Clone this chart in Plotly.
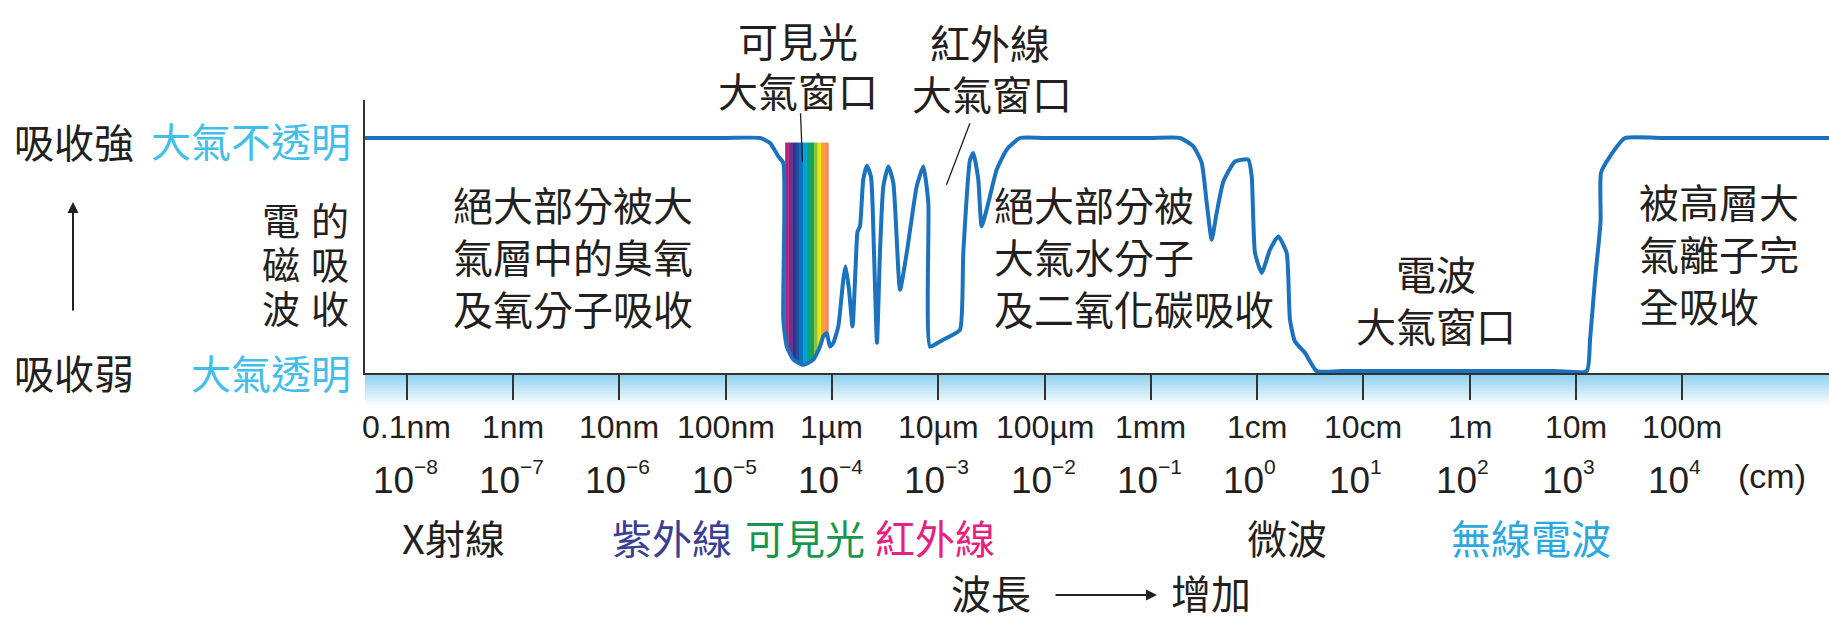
import numpy as np
import plotly.graph_objects as go

# Atmospheric absorption: log10(wavelength / cm) against relative absorption
# (0 = atmosphere transparent, 1 = atmosphere opaque)
log_wavelength = [
    -8.392, -6.000, -5.000, -4.676, -4.582, -4.504, -4.457, -4.457, -4.425, -4.363,
    -4.269, -4.175, -4.112, -4.081, -4.049, -4.018, -3.987, -3.940, -3.893, -3.872,
    -3.839, -3.806, -3.778, -3.759, -3.736, -3.705, -3.670, -3.632, -3.604, -3.576,
    -3.548, -3.516, -3.469, -3.422, -3.359, -3.296, -3.202, -3.140, -3.093, -3.077,
    -2.983, -2.889, -2.795, -2.764, -2.701, -2.670, -2.623, -2.591, -2.529, -2.450,
    -2.356, -2.230, -2.000, -1.000, -0.725, -0.600, -0.521, -0.474, -0.427, -0.380,
    -0.318, -0.208, -0.083, -0.051, -0.020, 0.043, 0.121, 0.199, 0.278, 0.309,
    0.356, 0.450, 0.561, 0.800, 2.800, 3.101, 3.132, 3.179, 3.231, 3.235,
    3.320, 3.461, 3.800, 5.381,
]
absorption = [
    1.0, 1.0, 1.0, 1.0, 0.979, 0.922, 0.894, 0.227, 0.113, 0.057,
    0.035, 0.057, 0.113, 0.156, 0.170, 0.113, 0.128, 0.198, 0.397, 0.454,
    0.354, 0.198, 0.440, 0.601, 0.624, 0.823, 0.882, 0.835, 0.512, 0.129,
    0.511, 0.794, 0.879, 0.809, 0.354, 0.511, 0.794, 0.879, 0.723, 0.113,
    0.134, 0.156, 0.184, 0.511, 0.906, 0.936, 0.823, 0.624, 0.723, 0.865,
    0.950, 1.0, 1.0, 1.0, 1.0, 0.964, 0.894, 0.723, 0.567, 0.682,
    0.814, 0.900, 0.908, 0.837, 0.512, 0.426, 0.525, 0.581, 0.511, 0.227,
    0.134, 0.086, 0.008, 0.008, 0.008, 0.008, 0.142, 0.397, 0.644, 0.852,
    0.922, 1.0, 1.0, 1.0,
]

# Decade ticks (log10 of wavelength in cm) and their labels
tick_exponents = list(range(-8, 5))
tick_lengths = ["0.1nm", "1nm", "10nm", "100nm", "1\u00b5m", "10\u00b5m",
                "100\u00b5m", "1mm", "1cm", "10cm", "1m", "10m", "100m"]
tick_powers = ["\u22128", "\u22127", "\u22126", "\u22125", "\u22124", "\u22123", "\u22122",
               "\u22121", "0", "1", "2", "3", "4"]

# Spectral bands named under the axis (label, centre in log10 cm)
band_names = ["X射線", "紫外線", "可見光", "紅外線", "微波", "無線電波"]
band_centres = [-7.56, -5.50, -4.25, -3.03, 0.28, 2.58]

# Visible-light band drawn as a rainbow (log10 cm) and its top level
visible_band = [-4.440, -4.034]
visible_top = 0.979

# ---- styles ----
CJK = "Noto Sans CJK TC, Noto Sans CJK SC, sans-serif"
LATIN = "Liberation Sans, Arial, sans-serif"
INK = "#231f20"
CURVE = "#1b72be"
CYAN = "#41bfea"
band_colors = [INK, "#3b3f94", "#17974e", "#e8217f", INK, "#2aa9e1"]
rainbow = ["#b3247f", "#7f2a8a", "#3b2e85", "#1f4e9d", "#0a75bf", "#00a0dc",
           "#00a28a", "#16a048", "#86c441", "#ece31c", "#f9a11b", "#f4896f"]

W, H = 1829, 619
ML, MT, MB = 365, 100, 246
PW, PH = W - ML, H - MT - MB
X0 = H - MB  # canvas row of the baseline


def px(x):
    return (x - ML) / PW


def py(y):
    return (X0 - y) / PH


fig = go.Figure()

# rainbow stripes filling the visible window down to the curve
edges = np.linspace(visible_band[0], visible_band[1], len(rainbow) + 1)
for i, col in enumerate(rainbow):
    xs = np.linspace(edges[i], edges[i + 1], 6)
    bottom = np.interp(xs, log_wavelength, absorption)
    fig.add_trace(go.Scatter(
        x=[xs[0], xs[-1]] + list(xs[::-1]),
        y=[visible_top, visible_top] + list(bottom[::-1]),
        mode="lines", fill="toself", fillcolor=col,
        line=dict(color=col, width=0.8), hoverinfo="skip", showlegend=False))

# absorption curve
fig.add_trace(go.Scatter(x=log_wavelength, y=absorption, mode="lines",
                         line=dict(color=CURVE, width=4, shape="spline", smoothing=0.5),
                         hoverinfo="skip", showlegend=False, cliponaxis=False))

# pale blue band under the axis
steps = 16
for k in range(steps):
    t = k / steps
    r = int(140 + (255 - 140) * t)
    g = int(208 + (255 - 208) * t)
    b = int(240 + (255 - 240) * t)
    fig.add_shape(type="rect", xref="paper", yref="paper",
                  x0=0, x1=1, y0=py(X0 + 2 * k), y1=py(X0 + 2 * (k + 1)),
                  fillcolor=f"rgb({r},{g},{b})", line=dict(width=0), layer="below")


def label(text, x, y, size=40, color=INK, family=CJK, xanchor="center", xref="paper",
          align="center", xshift=0):
    fig.add_annotation(text=text, x=px(x) if xref == "paper" else x, y=py(y),
                       xref=xref, yref="paper", showarrow=False, xanchor=xanchor,
                       yanchor="middle", align=align, xshift=xshift, borderpad=0,
                       font=dict(size=size, color=color, family=family))


# left-hand scale words
label("吸收強", 74, 141)
label("吸收弱", 74, 372)
label("大氣不透明", 352, 140, color=CYAN, xanchor="right")
label("大氣透明", 352, 372, color=CYAN, xanchor="right")
for col_x, chars in ((281, "電磁波"), (330, "的吸收")):
    for row_y, ch in zip((218, 262, 306), chars):
        label(ch, col_x, row_y, size=38)
fig.add_annotation(x=px(73), y=py(202), ax=0, ay=110, xref="paper", yref="paper",
                   text="", showarrow=True, arrowhead=2, arrowsize=1.1, arrowwidth=2,
                   arrowcolor=INK, standoff=0)

# windows and absorption notes
label("可見光", 798, 40)
label("大氣窗口", 798, 90)
label("紅外線", 990, 42)
label("大氣窗口", 992, 93)
fig.add_annotation(x=-4.277, y=0.899, ax=-2, ay=-50, xref="x", yref="y", text="",
                   showarrow=True, arrowhead=0, arrowwidth=1.3, arrowcolor=INK, standoff=0)
fig.add_annotation(x=-2.922, y=0.801, ax=24, ay=-63, xref="x", yref="y", text="",
                   showarrow=True, arrowhead=0, arrowwidth=1.3, arrowcolor=INK, standoff=0)
label("絕大部分被大<br>氣層中的臭氧<br>及氧分子吸收", 452, 256, xanchor="left", align="left")
label("絕大部分被<br>大氣水分子<br>及二氧化碳吸收", 993, 256, xanchor="left", align="left")
label("電波<br>大氣窗口", 1436, 299)
label("被高層大<br>氣離子完<br>全吸收", 1638, 253, xanchor="left", align="left")

# axis label rows: length units, then powers of ten (base and exponent)
for e, a, p in zip(tick_exponents, tick_lengths, tick_powers):
    label(a, e, 427, size=32, family=LATIN, xref="x")
    label("10", e, 480, size=37, family=LATIN, xref="x", xanchor="right", xshift=8)
    label(p, e, 466, size=21, family=LATIN, xref="x", xanchor="left", xshift=6)
label("(cm)", 1772, 476, size=34, family=LATIN)
for name, c, col in zip(band_names, band_centres, band_colors):
    label(name, c, 537, color=col, xref="x")

label("波長", 991, 592)
label("增加", 1211, 592)
fig.add_annotation(x=px(1157), y=py(595), ax=-103, ay=0, xref="paper", yref="paper",
                   text="", showarrow=True, arrowhead=2, arrowsize=1.1, arrowwidth=2,
                   arrowcolor=INK, standoff=0)

fig.update_layout(
    width=W, height=H,
    margin=dict(l=ML, r=0, t=MT, b=MB, pad=0),
    paper_bgcolor="white", plot_bgcolor="white",
    showlegend=False,
    xaxis=dict(range=[-8.3923, 5.380], showgrid=False, zeroline=False,
               showline=True, linecolor="#333333", linewidth=2,
               ticks="outside", ticklen=25, tickwidth=2, tickcolor="#333333",
               tickvals=tick_exponents, showticklabels=False, fixedrange=True),
    yaxis=dict(range=[0, PH / 235], showgrid=False, zeroline=False,
               showline=True, linecolor="#333333", linewidth=2,
               ticks="", showticklabels=False, fixedrange=True),
)

fig.write_html("out.html")
